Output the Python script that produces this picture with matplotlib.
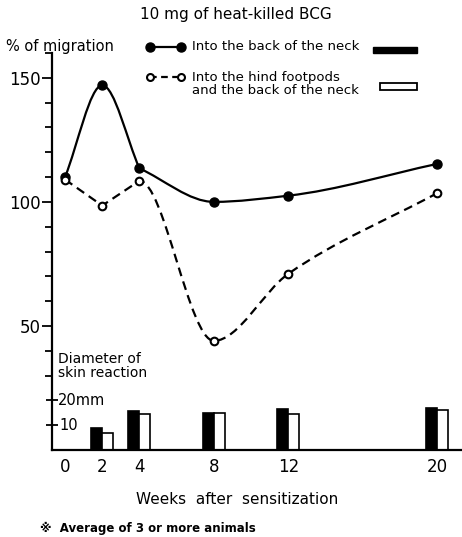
import numpy as np
import matplotlib.pyplot as plt
from matplotlib.path import Path
from matplotlib.patches import PathPatch, Rectangle
from matplotlib.lines import Line2D

plt.rcParams['font.family'] = ['DejaVu Sans', 'Noto Sans CJK JP']

# data
weeks = [0, 2, 4, 8, 12, 20]
neck = [110, 147, 113.5, 100, 102.5, 115.3]          # % of migration, back of the neck
footpads = [109, 98.5, 108.5, 44, 71, 103.5]         # % of migration, hind footpads + neck
skin_neck = [8.9, 15.7, 15.0, 16.5, 17.0]            # mm, skin reaction (weeks 2..20)
skin_foot = [6.9, 14.5, 15.0, 14.5, 16.2]
bar_weeks = [2, 4, 8, 12, 20]
xtick_labels = ['0', '2', '4', '8', '12', '20']


def smooth_path(x, y, straight=(), corners=()):
    # monotone (pchip-like) cubic through the points, drawn as Bezier segments;
    # segments in `straight` are drawn as lines, points in `corners` keep a kink
    x = np.asarray(x, float)
    y = np.asarray(y, float)
    n = len(x)
    h = np.diff(x)
    d = np.diff(y) / h
    m = np.zeros(n)
    m[0], m[-1] = d[0], d[-1]
    for i in range(1, n - 1):
        if d[i - 1] * d[i] > 0:
            w1 = 2 * h[i] + h[i - 1]
            w2 = h[i] + 2 * h[i - 1]
            m[i] = (w1 + w2) / (w1 / d[i - 1] + w2 / d[i])
    mL = m.copy()
    mR = m.copy()
    for i in corners:
        mL[i] = d[i - 1]
        mR[i] = d[i]
    verts = [(x[0], y[0])]
    codes = [Path.MOVETO]
    for i in range(n - 1):
        if i in straight:
            verts.append((x[i + 1], y[i + 1]))
            codes.append(Path.LINETO)
            continue
        c1 = (x[i] + h[i] / 3, y[i] + mR[i] * h[i] / 3)
        c2 = (x[i + 1] - h[i] / 3, y[i + 1] - mL[i + 1] * h[i] / 3)
        verts += [c1, c2, (x[i + 1], y[i + 1])]
        codes += [Path.CURVE4] * 3
    return Path(verts, codes)


W, H = 462, 537
fig = plt.figure(figsize=(W / 100, H / 100), dpi=100)
ax = fig.add_axes([52 / W, (H - 450) / H, (W - 52) / W, 397 / H])
ax.set_xlim(-0.7, 21.34)
ax.set_ylim(0, 160)

# curves
ax.add_patch(PathPatch(smooth_path(weeks, neck, corners=[2 + 0]), fill=False, lw=1.6,
                       color='black'))
ax.add_patch(PathPatch(smooth_path(weeks, footpads, straight=[0, 1]), fill=False, lw=1.6,
                       color='black', linestyle=(0, (4, 2.5))))
ax.plot(weeks, neck, 'o', color='black', ms=6.5, zorder=3)
ax.plot(weeks, footpads, 'o', mfc='white', mec='black', mew=1.5, ms=5.5, zorder=4)

# skin reaction bars
bw = 0.59
bx = np.array(bar_weeks, dtype=float)
ax.bar(bx - bw / 2, skin_neck, width=bw, color='black', edgecolor='black', lw=1.2)
ax.bar(bx + bw / 2, skin_foot, width=bw, color='white', edgecolor='black', lw=1.2)

# axes
for s in ['top', 'right']:
    ax.spines[s].set_visible(False)
ax.spines['left'].set_linewidth(1.6)
ax.spines['bottom'].set_linewidth(1.6)
ax.set_xticks(weeks)
ax.set_xticklabels(xtick_labels, fontsize=12)
ax.tick_params(axis='x', length=0, pad=6)
ax.set_yticks([50, 100, 150])
ax.set_yticklabels(['50', '100', '150'], fontsize=12)
ax.set_yticks([30, 40, 60, 70, 80, 90, 110, 120, 130, 140, 160], minor=True)
ax.tick_params(axis='y', which='major', length=7, width=1.3, pad=1)
ax.tick_params(axis='y', which='minor', length=5, width=1.3)
sec = ax.secondary_yaxis('left')
sec.spines['left'].set_visible(False)
sec.set_yticks([10, 20])
sec.set_yticklabels([])
sec.tick_params(direction='inout', length=9, width=1.3)

ax.text(-0.4, 20, '20mm', fontsize=10.5, va='center', ha='left')
ax.text(-0.3, 10, '10', fontsize=10.5, va='center', ha='left')


def px(x, y):
    return x / W, 1 - y / H


fig.text(*px(236, 15), '10 mg of heat-killed BCG', fontsize=11, ha='center', va='center')
fig.text(*px(6, 47), '% of migration', fontsize=10.5, ha='left', va='center')
fig.text(*px(58, 366), 'Diameter of\nskin reaction', fontsize=10, ha='left', va='center',
         linespacing=1.0)
fig.text(*px(237, 499), 'Weeks  after  sensitization', fontsize=11, ha='center', va='center')
fig.text(*px(40, 528), '※  Average of 3 or more animals', fontsize=8.5, ha='left',
         va='center', fontweight='bold')

# legend
x0, x1 = px(150, 47)[0], px(181, 47)[0]
y1 = px(0, 47)[1]
fig.add_artist(Line2D([x0, x1], [y1, y1], color='black', lw=1.6, marker='o', ms=6.5))
fig.text(*px(192, 47), 'Into the back of the neck', fontsize=9.5, ha='left', va='center')
fig.add_artist(Rectangle(px(373, 53), 44 / W, 6 / H, facecolor='black', edgecolor='black'))
y2 = px(0, 77)[1]
fig.add_artist(Line2D([x0, x1], [y2, y2], color='black', lw=1.6, linestyle=(0, (3, 2)),
                       marker='o', mfc='white', mec='black', mew=1.5, ms=5))
fig.text(*px(192, 84), 'Into the hind footpods\nand the back of the neck', fontsize=9.5,
         ha='left', va='center', linespacing=1.0)
fig.add_artist(Rectangle(px(380, 90), 37 / W, 7 / H, facecolor='white', edgecolor='black',
                         lw=1.3))

fig.savefig('out.png', dpi=100)
